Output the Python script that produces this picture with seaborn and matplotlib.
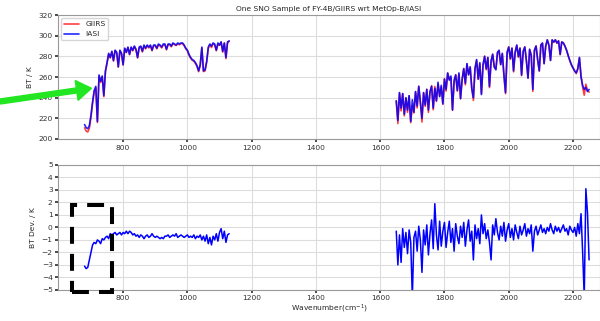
import numpy as np
import matplotlib
matplotlib.use("Agg")
import matplotlib.pyplot as plt
import seaborn as sns
from matplotlib.patches import FancyArrow, Rectangle
from matplotlib.transforms import IdentityTransform

# ---------------------------------------------------------
# Spectra (IASI BT and GIIRS - IASI)
# ---------------------------------------------------------
wn_lw = np.arange(680, 1131, 5)
iasi_lw = [214, 211, 210, 213, 223, 236, 247, 251, 217, 262,
           256, 261, 242, 266, 274, 283, 279, 285, 276, 286,
           284, 270, 286, 283, 272, 288, 284, 289, 282, 289,
           286, 290, 287, 279, 289, 290, 285, 291, 288, 291,
           289, 291, 286, 291, 291, 288, 292, 291, 289, 292,
           292, 287, 292, 292, 290, 293, 292, 291, 293, 292,
           293, 293, 291, 288, 286, 282, 279, 277, 276, 274,
           271, 266, 272, 289, 266, 267, 275, 289, 292, 290,
           293, 292, 286, 293, 291, 294, 285, 293, 279, 294,
           295]
dev_lw = [-3.1, -3.3, -3.2, -2.6, -2.0, -1.4, -1.2, -1.3, -1.0, -1.1,
          -1.3, -0.9, -1.0, -0.8, -0.7, -0.9, -0.5, -0.6, -0.5, -0.4,
          -0.6, -0.5, -0.4, -0.6, -0.4, -0.5, -0.3, -0.5, -0.3, -0.4,
          -0.6, -0.5, -0.7, -0.6, -0.8, -0.6, -0.7, -0.9, -0.7, -0.6,
          -0.8, -0.7, -0.5, -0.7, -0.8, -0.7, -0.8, -0.9, -0.8, -0.9,
          -0.7, -0.7, -0.6, -0.8, -0.7, -0.6, -0.7, -0.5, -0.8, -0.7,
          -0.6, -0.7, -0.8, -0.7, -0.6, -0.8, -0.7, -0.8, -0.6, -0.9,
          -0.7, -0.8, -0.6, -1.0, -0.7, -1.1, -0.6, -1.3, -0.8, -1.4,
          -0.7, -1.0, -0.5, -1.1, -0.4, -0.1, -0.9, -0.3, -1.2, -0.6,
          -0.5]

wn_mw = np.arange(1650, 2251, 5)
iasi_mw = [237, 218, 245, 230, 244, 224, 240, 228, 242, 217,
           238, 226, 246, 232, 251, 236, 220, 245, 233, 248,
           228, 246, 251, 230, 249, 237, 255, 241, 252, 234,
           258, 248, 264, 257, 261, 228, 257, 262, 247, 264,
           239, 258, 268, 254, 273, 262, 270, 249, 240, 268,
           277, 258, 274, 243, 272, 280, 268, 279, 251, 276,
           282, 270, 267, 284, 286, 272, 283, 262, 245, 284,
           289, 278, 288, 266, 284, 291, 280, 288, 262, 285,
           289, 276, 259, 287, 281, 248, 286, 290, 277, 266,
           291, 293, 273, 290, 296, 291, 276, 296, 294, 296,
           293, 295, 282, 294, 293, 290, 286, 281, 276, 272,
           269, 266, 264, 268, 279, 260, 252, 248, 250, 246,
           248]
dev_mw = [-0.3, -3.0, -0.6, -2.8, -0.1, -1.6, -0.4, -2.1, -0.2, -1.2,
          -5.6, -0.8, -0.3, -1.9, 0.1, -1.0, -3.6, -0.2, -1.4, 0.2,
          -2.2, -0.5, 0.6, -1.7, 1.9, -0.6, -1.8, 0.5, -1.5, -0.3,
          0.4, -1.6, -0.4, 0.5, -1.2, -0.1, -1.9, 0.3, -0.7, -1.3,
          0.1, -0.8, 0.4, -1.5, -0.2, 0.6, -1.1, -0.3, -2.6, 0.2,
          -0.9, -0.1, -1.3, 1.0, -0.5, 0.3, -0.9, -0.2, -1.2, -2.6,
          0.2, -0.6, 0.7, -0.4, -1.0, 0.1, -0.7, 0.4, -1.1, -0.2,
          0.3, -0.8, -0.1, -1.0, 0.2, -0.4, -0.9, 0.1, -0.6, -0.2,
          0.3, -0.7, -0.1, -0.5, 0.2, -1.9, -0.3, 0.1, -0.6, -0.2,
          0.2, -0.4, -0.1, -0.5, 0.0, -0.3, 0.3, -0.2, -0.5, 0.1,
          -0.3, 0.0, -0.4, -0.1, 0.2, -0.3, -0.1, -0.6, 0.1, -0.2,
          -0.4, 0.0, -0.7, 0.3, -0.5, 1.1, -2.0, -5.6, 3.1, 1.2,
          -2.6]

giirs_lw = np.array(iasi_lw) + np.array(dev_lw)
giirs_mw = np.array(iasi_mw) + np.array(dev_mw)

# ---------------------------------------------------------
# Style
# ---------------------------------------------------------
sns.set_theme(style="whitegrid", rc={
    "axes.edgecolor": "#999999",
    "axes.linewidth": 0.8,
    "grid.color": "#dddddd",
    "grid.linewidth": 0.8,
    "xtick.bottom": True,
    "ytick.left": True,
    "xtick.major.size": 2.5,
    "ytick.major.size": 2.5,
    "xtick.color": "#333333",
    "ytick.color": "#333333",
})
plt.rcParams['font.family'] = ['DejaVu Sans']
fs = 5.4

fig = plt.figure(figsize=(6, 3.21), dpi=100)
ax1 = fig.add_axes([0.097, 0.567, 0.903, 0.386])
ax2 = fig.add_axes([0.097, 0.097, 0.903, 0.389])

# Top: brightness temperature
sns.lineplot(x=wn_lw, y=giirs_lw, color="red", lw=1.2, alpha=0.75, label="GIIRS", ax=ax1, estimator=None)
sns.lineplot(x=wn_mw, y=giirs_mw, color="red", lw=1.2, alpha=0.75, ax=ax1, estimator=None)
sns.lineplot(x=wn_lw, y=iasi_lw, color="blue", lw=1.2, alpha=0.85, label="IASI", ax=ax1, estimator=None)
sns.lineplot(x=wn_mw, y=iasi_mw, color="blue", lw=1.2, alpha=0.85, ax=ax1, estimator=None)
ax1.set_xlim(598, 2284)
ax1.set_ylim(200, 320)
ax1.set_yticks(range(200, 321, 20))
ax1.set_xticks(range(800, 2201, 200))
ax1.set_ylabel("BT / K", fontsize=fs)
ax1.set_title("One SNO Sample of FY-4B/GIIRS wrt MetOp-B/IASI", fontsize=fs, pad=3)
ax1.tick_params(labelsize=fs, pad=1.5)
ax1.legend(loc="upper left", fontsize=fs, frameon=True, edgecolor="#cccccc", borderaxespad=0.4)

# Bottom: BT deviation
sns.lineplot(x=wn_lw, y=dev_lw, color="blue", lw=1.1, ax=ax2, estimator=None)
sns.lineplot(x=wn_mw, y=dev_mw, color="blue", lw=1.1, ax=ax2, estimator=None)
ax2.set_xlim(598, 2284)
ax2.set_ylim(-5, 5)
ax2.set_yticks(range(-5, 6, 1))
ax2.set_xticks(range(800, 2201, 200))
ax2.set_ylabel("BT Dev. / K", fontsize=fs)
ax2.set_xlabel("Wavenumber(cm$^{-1}$)", fontsize=fs, labelpad=1)
ax2.tick_params(labelsize=fs, pad=1.5)

# Annotations drawn on top (pixel coordinates)
arrow = FancyArrow(0, 219.5, 91.5, 13.2, width=5, head_width=20, head_length=15,
                   length_includes_head=True, color="#22e622", transform=IdentityTransform())
fig.add_artist(arrow)
box = Rectangle((72, 29), 40, 87, fill=False, edgecolor="black", lw=2.9,
                linestyle=(0, (4.2, 2.5)), transform=IdentityTransform())
fig.add_artist(box)

fig.savefig("out.png", dpi=100)
